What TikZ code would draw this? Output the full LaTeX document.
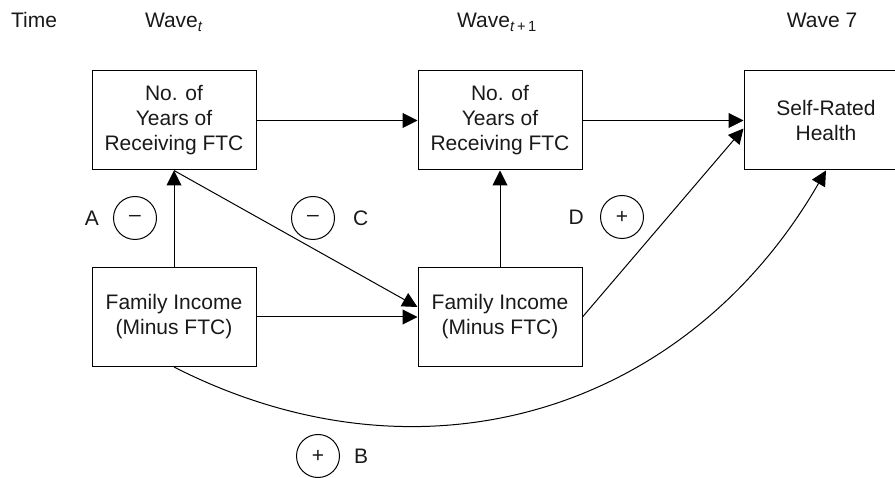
\documentclass[tikz,border=0pt]{standalone}
\usepackage{fontspec}
\setmainfont{Liberation Sans}
\usetikzlibrary{arrows.meta,positioning}

\begin{document}
\begin{tikzpicture}[
            x = 1pt, y = 1pt,
            every node/.style={text=black!90, font=\fontsize{21}{25}\selectfont},
            box/.style={draw, line width = 1pt, minimum width = 164pt, minimum height = 99pt, align=center, inner sep=0pt},
            sign/.style={draw, circle, line width = 1pt, minimum size = 43pt, inner sep=0pt},
            line/.style={line width = 1pt, -{Triangle[length=15pt, width=15pt]}},
            ]
        \useasboundingbox (0,0) rectangle (895,477);

        \node[anchor=base] (time) at (34,449) {Time};
        \node[anchor=base] (w1) at (174,449) {Wave\textsubscript{\textit{t}}};
        \node[anchor=base] (w2) at (497,449) {Wave\textsubscript{\textit{t}\,+\,1}};
        \node[anchor=base] (w3) at (822,449) {Wave 7};

        \node[box] (ftc1) at (174,356.5) {No. of\\Years of\\Receiving FTC};
        \node[box] (ftc2) at (500,356.5) {No. of\\Years of\\Receiving FTC};
        \node[box] (srh) at (826,356.5) {Self-Rated\\Health};
        \node[box] (inc1) at (174,160) {Family Income\\(Minus FTC)};
        \node[box] (inc2) at (500,160) {Family Income\\(Minus FTC)};

        \node[sign] (sa) at (135,259) {\textendash};
        \node[sign] (sc) at (313,259) {\textendash};
        \node[sign] (sd) at (622,260) {+};
        \node[sign] (sb) at (318,21) {+};
        \node[left=14pt of sa, inner sep=0pt] (la) {A};
        \node[right=18pt of sc, inner sep=0pt] (lc) {C};
        \node[left=16pt of sd, inner sep=0pt] (ld) {D};
        \node[right=14pt of sb, inner sep=0pt] (lb) {B};

        \draw[line] (ftc1) -- (ftc2);
        \draw[line] (ftc2) -- (srh);
        \draw[line] (inc1) -- (ftc1);
        \draw[line] (inc2) -- (ftc2);
        \draw[line] (inc1) -- (inc2);
        \draw[line] (ftc1.south) -- ([yshift=10pt]inc2.west);
        \draw[line] (inc2.east) -- ([yshift=-8pt]srh.west);
        \draw[line] (inc1.south) to[out=-27, in=-120, looseness=1.05] (srh.south);
    \end{tikzpicture}
\end{document}
